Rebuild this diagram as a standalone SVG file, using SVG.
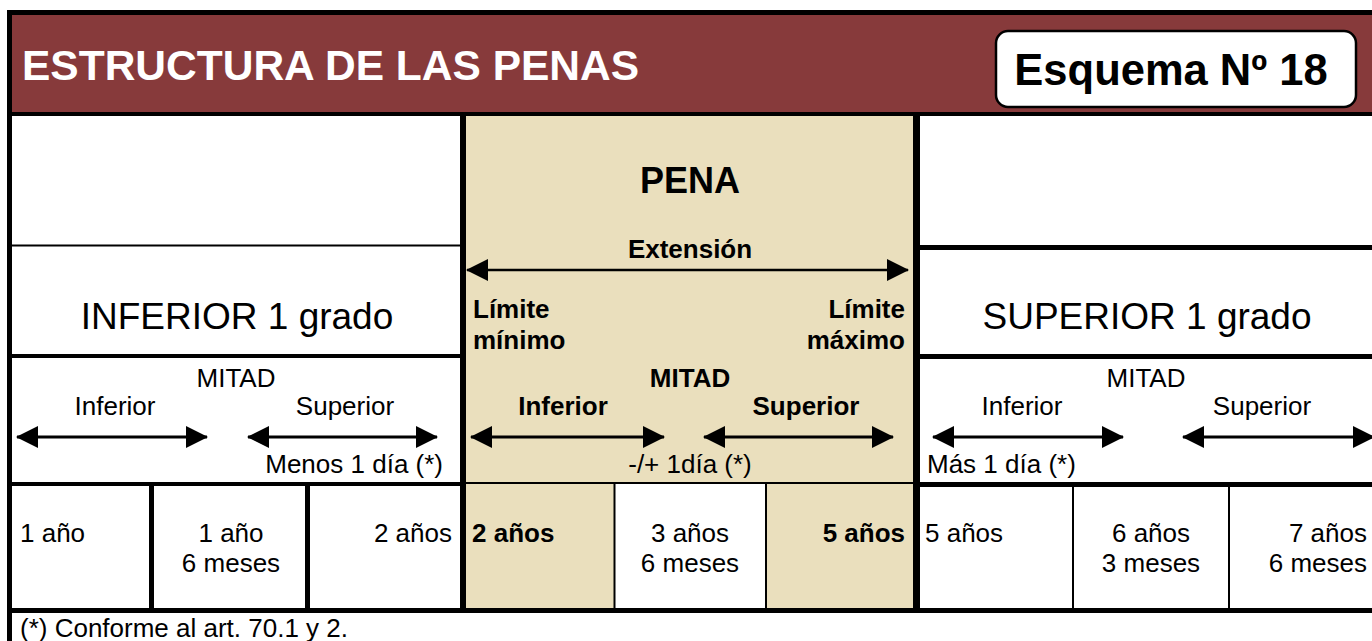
<svg xmlns="http://www.w3.org/2000/svg" width="1372" height="641" viewBox="0 0 1372 641">
<defs>
<marker id="ah" viewBox="0 0 22 22" refX="21" refY="11" markerWidth="22" markerHeight="22" markerUnits="userSpaceOnUse" orient="auto-start-reverse">
<path d="M0,0 L22,11 L0,22 z" fill="#000"/>
</marker>
<style>
text{font-family:"Liberation Sans",Arial,Helvetica,sans-serif;fill:#000}
.t26{font-size:26px}
.b26{font-size:26px;font-weight:bold}
.big{font-size:37px}
.bk{fill:#000}
.thin{stroke:#000;stroke-width:2}
.arr{stroke:#000;stroke-width:3;fill:none;marker-start:url(#ah);marker-end:url(#ah)}
.m{text-anchor:middle}
.e{text-anchor:end}
</style>
</defs>
<rect width="1372" height="641" fill="#fff"/>

<g id="header">
<rect x="7" y="10" width="1365" height="106" fill="#000"/>
<rect x="12" y="15" width="1360" height="97" fill="#873A3B"/>
<text x="22" y="80" style="font-size:42.5px;font-weight:bold;fill:#fff">ESTRUCTURA DE LAS PENAS</text>
</g>

<g id="esquema">
<rect x="996" y="31" width="360" height="76" rx="12" ry="12" fill="#fff" stroke="#000" stroke-width="2.5"/>
<text x="1171" y="85" class="m" style="font-size:43.5px;font-weight:bold">Esquema Nº 18</text>
</g>

<g id="pena">
<rect x="466" y="116" width="447" height="497" fill="#EADFBD"/>
<rect x="615" y="484" width="150" height="124" fill="#fff"/>
<text x="690" y="193" class="m" style="font-size:36px;font-weight:bold">PENA</text>
<text x="690" y="258" class="m b26">Extensión</text>
<text x="473" y="318" class="b26">Límite</text>
<text x="473" y="349" class="b26">mínimo</text>
<text x="905" y="318" class="e b26">Límite</text>
<text x="905" y="349" class="e b26">máximo</text>
<text x="690" y="387" class="m b26">MITAD</text>
<text x="563" y="415" class="m b26">Inferior</text>
<text x="806" y="415" class="m b26">Superior</text>
<text x="690" y="473" class="m t26">-/+ 1día (*)</text>
<text x="472" y="542" class="b26">2 años</text>
<text x="690" y="542" class="m t26">3 años</text>
<text x="690" y="572" class="m t26">6 meses</text>
<text x="905" y="542" class="e b26">5 años</text>
</g>

<g id="inferior">
<text x="237" y="329" class="m big">INFERIOR 1 grado</text>
<text x="236" y="387" class="m t26">MITAD</text>
<text x="115" y="415" class="m t26">Inferior</text>
<text x="345" y="415" class="m t26">Superior</text>
<text x="443" y="473" class="e t26">Menos 1 día (*)</text>
<text x="20" y="542" class="t26">1 año</text>
<text x="231" y="542" class="m t26">1 año</text>
<text x="231" y="572" class="m t26">6 meses</text>
<text x="452" y="542" class="e t26">2 años</text>
</g>

<g id="superior">
<text x="1147" y="329" class="m big">SUPERIOR 1 grado</text>
<text x="1146" y="387" class="m t26">MITAD</text>
<text x="1022" y="415" class="m t26">Inferior</text>
<text x="1262" y="415" class="m t26">Superior</text>
<text x="927" y="473" class="t26">Más 1 día (*)</text>
<text x="925" y="542" class="t26">5 años</text>
<text x="1151" y="542" class="m t26">6 años</text>
<text x="1151" y="572" class="m t26">3 meses</text>
<text x="1367" y="542" class="e t26">7 años</text>
<text x="1367" y="572" class="e t26">6 meses</text>
</g>

<g id="grid">
<rect x="7" y="116" width="5" height="525" class="bk"/>
<rect x="460" y="116" width="6" height="497" class="bk"/>
<rect x="913" y="116" width="7" height="497" class="bk"/>
<line x1="12" y1="245.5" x2="460" y2="245.5" class="thin"/>
<rect x="920" y="245" width="452" height="5" class="bk"/>
<rect x="12" y="354" width="448" height="4" class="bk"/>
<rect x="920" y="354" width="452" height="5" class="bk"/>
<rect x="12" y="482" width="448" height="4" class="bk"/>
<line x1="466" y1="483" x2="913" y2="483" class="thin"/>
<rect x="920" y="482" width="452" height="5" class="bk"/>
<rect x="12" y="608" width="1360" height="5" class="bk"/>
<rect x="149" y="486" width="5" height="122" class="bk"/>
<rect x="305" y="486" width="5" height="122" class="bk"/>
<line x1="614.5" y1="484" x2="614.5" y2="608" class="thin"/>
<line x1="766" y1="484" x2="766" y2="608" class="thin"/>
<line x1="1073" y1="487" x2="1073" y2="608" class="thin"/>
<line x1="1229" y1="487" x2="1229" y2="608" class="thin"/>
</g>

<g id="footer">
<text x="20" y="637" class="t26">(*) Conforme al art. 70.1 y 2.</text>
</g>

<g id="connectors">
<line x1="467" y1="270" x2="908" y2="270" class="arr" style="stroke-width:2.5"/>
<line x1="17" y1="437" x2="207" y2="437" class="arr"/>
<line x1="248" y1="437" x2="437" y2="437" class="arr"/>
<line x1="471" y1="437" x2="664" y2="437" class="arr"/>
<line x1="704" y1="437" x2="893" y2="437" class="arr"/>
<line x1="933" y1="437" x2="1123" y2="437" class="arr"/>
<line x1="1183" y1="437" x2="1374" y2="437" class="arr"/>
</g>
</svg>
